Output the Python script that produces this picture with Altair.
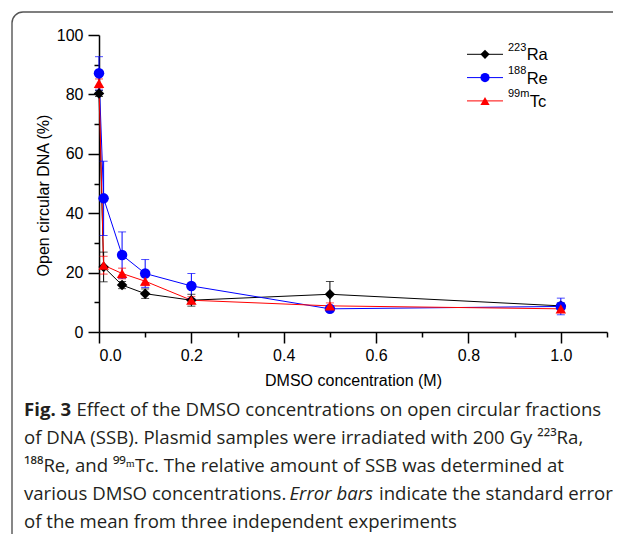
import altair as alt
import pandas as pd

# ---- data ----
conc = [0.0, 0.01, 0.05, 0.1, 0.2, 0.5, 1.0]
ra_mean = [80.3, 21.9, 15.8, 12.9, 10.7, 12.7, 8.8]
ra_err = [1.0, 5.0, 1.2, 1.6, 2.0, 4.3, 1.0]
re_mean = [87.1, 45.0, 25.9, 19.7, 15.5, 7.8, 8.6]
re_err = [5.6, 12.5, 7.8, 4.7, 4.2, 0.8, 2.8]
tc_mean = [83.7, 22.5, 19.7, 17.1, 10.7, 8.8, 7.8]
tc_err = [1.5, 3.0, 1.8, 1.5, 1.2, 1.0, 1.2]

iso_mass = ["223", "188", "99m"]
element = ["Ra", "Re", "Tc"]
series = [m + e for m, e in zip(iso_mass, element)]
colors = ["#000000", "#0000FF", "#FF0000"]
shapes = ["diamond", "circle", "triangle-up"]

x_ticks = [0.0, 0.1, 0.2, 0.3, 0.4, 0.5, 0.6, 0.7, 0.8, 0.9, 1.0, 1.1]
y_ticks = [0, 10, 20, 30, 40, 50, 60, 70, 80, 90, 100]

caption = [
    [("Fig. 3", "bold", "normal", 0), ("Effect of the DMSO concentrations on open circular fractions", "normal", "normal", 52.4)],
    [("of DNA (SSB). Plasmid samples were irradiated with 200 Gy \u00b2\u00b2\u00b3Ra,", "normal", "normal", 0)],
    [("\u00b9\u2078\u2078Re, and \u2079\u2079\u1d50Tc. The relative amount of SSB was determined at", "normal", "normal", 0)],
    [("various DMSO concentrations.", "normal", "normal", 0), ("Error bars", "normal", "italic", 265.5),
     ("indicate the standard error", "normal", "normal", 355)],
    [("of the mean from three independent experiments", "normal", "normal", 0)],
]

rows = []
for name, m, e in zip(series, [ra_mean, re_mean, tc_mean], [ra_err, re_err, tc_err]):
    for xv, mv, ev in zip(conc, m, e):
        rows.append({"series": name, "x": xv, "y": mv, "lo": mv - ev, "hi": mv + ev})
df = pd.DataFrame(rows)

AX_FONT = "Liberation Sans"
CAP_FONT = "Open Sans"

x_axis = alt.Axis(
    values=x_ticks, format=".1f",
    labelExpr="round(datum.value*10) % 2 == 0 ? datum.label : ''",
    tickSize={"condition": {"test": "round(datum.value*10) % 2 == 0", "value": 11}, "value": 5},
    grid=False, domainColor="black", domainWidth=1.5, tickColor="black", tickWidth=1.5,
    labelFont=AX_FONT, labelFontSize=16, labelColor="black", labelPadding=4, labelOverlap=False,
    title="DMSO concentration (M)", titleFont=AX_FONT, titleFontSize=16, titleFontWeight="normal",
    titleColor="black", titleBaseline="middle", titleY=48,
)
y_axis = alt.Axis(
    values=y_ticks,
    labelExpr="datum.value % 20 == 0 ? datum.label : ''",
    tickSize={"condition": {"test": "datum.value % 20 == 0", "value": 11}, "value": 5},
    grid=False, domainColor="black", domainWidth=1.5, tickColor="black", tickWidth=1.5,
    labelFont=AX_FONT, labelFontSize=16, labelColor="black", labelPadding=5, labelOverlap=False,
    title="Open circular DNA (%)", titleFont=AX_FONT, titleFontSize=16, titleFontWeight="normal",
    titleColor="black", titleAngle=-90, titleBaseline="middle", titleAlign="center",
    titleX=-56, titleY=160,
)

xs = alt.Scale(domain=[0, 1.1], nice=False, zero=False)
ys = alt.Scale(domain=[0, 100], nice=False)


def X():
    return alt.X("x:Q", scale=xs, axis=x_axis)


def Y(field):
    return alt.Y(field + ":Q", scale=ys, axis=y_axis)


color = alt.Color("series:N", scale=alt.Scale(domain=series, range=colors), legend=None)
shape = alt.Shape("series:N", scale=alt.Scale(domain=series, range=shapes), legend=None)

base = alt.Chart(df)
lines = base.mark_line(strokeWidth=1).encode(x=X(), y=Y("y"), color=color, detail="series:N")
errs = base.mark_rule(strokeWidth=1).encode(x=X(), y=Y("lo"), y2="hi:Q", color=color)
caps_hi = base.mark_tick(thickness=1, size=8, orient="horizontal").encode(x=X(), y=Y("hi"), color=color)
caps_lo = base.mark_tick(thickness=1, size=8, orient="horizontal").encode(x=X(), y=Y("lo"), color=color)
points = base.mark_point(filled=True, size=110, opacity=1).encode(x=X(), y=Y("y"), color=color, shape=shape)

one = pd.DataFrame({"k": [0]})
layers = [lines, errs, caps_hi, caps_lo, points]

# frame around figure + caption
layers.append(
    alt.Chart(one).mark_rect(filled=False, stroke="#555555", strokeWidth=1.4, cornerRadius=11).encode(
        x=alt.value(-87), x2=alt.value(560), y=alt.value(-23), y2=alt.value(513)
    )
)

# legend
sup_w = {"223": 18.4, "188": 18.4, "99m": 21.4}
for i, (m, e, c, s) in enumerate(zip(iso_mass, element, colors, shapes)):
    ly = 19.3 + i * 23.3
    layers.append(alt.Chart(one).mark_rule(color=c, strokeWidth=1).encode(
        x=alt.value(368), x2=alt.value(404), y=alt.value(ly)))
    layers.append(alt.Chart(one).mark_point(filled=True, shape=s, size=85, color=c, opacity=1).encode(
        x=alt.value(386), y=alt.value(ly)))
    layers.append(alt.Chart(one).mark_text(text=m, font=AX_FONT, fontSize=11, align="left",
                                           baseline="alphabetic", color="black").encode(
        x=alt.value(409), y=alt.value(ly - 3.6)))
    layers.append(alt.Chart(one).mark_text(text=e, font=AX_FONT, fontSize=16.5, align="left",
                                           baseline="alphabetic", color="black").encode(
        x=alt.value(409 + sup_w[m] + 0.3), y=alt.value(ly + 6.0)))

# caption
cap_x = -75
for li, segs in enumerate(caption):
    by = 381 + li * 28
    for txt, weight, style, off in segs:
        layers.append(alt.Chart(one).mark_text(text=txt, font=CAP_FONT, fontSize=18.6, fontWeight=weight,
                                               fontStyle=style, align="left", baseline="alphabetic",
                                               color="#231f20").encode(
            x=alt.value(cap_x + off), y=alt.value(by)))

chart = alt.layer(*layers).properties(
    width=508, height=297,
    autosize=alt.AutoSizeParams(type="none"),
    padding={"left": 91, "top": 27, "right": 6, "bottom": 202},
    background="white",
).configure_view(stroke=None)

chart.save("out.html", embed_options={"renderer": "svg", "actions": False})
